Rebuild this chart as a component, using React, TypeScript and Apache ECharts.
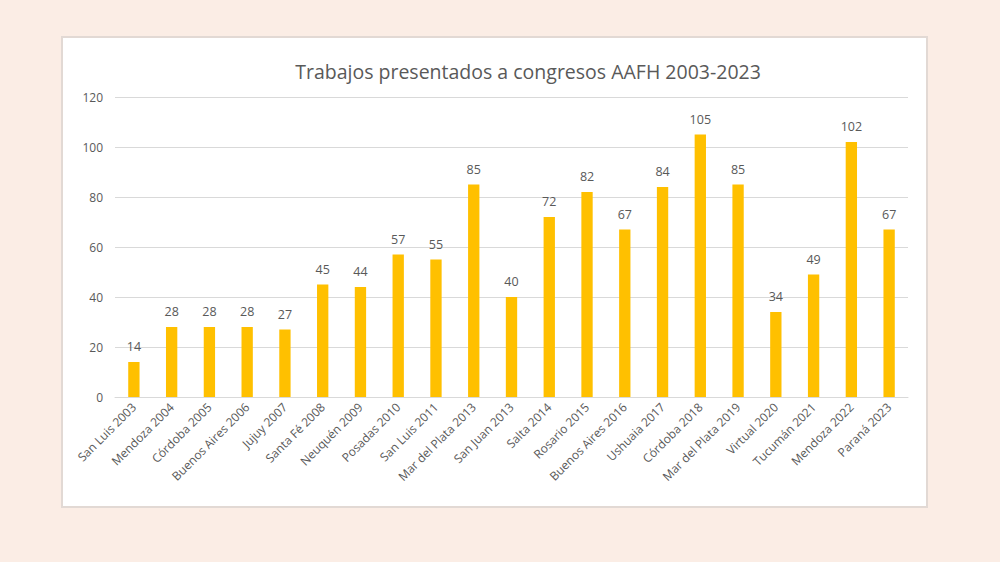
import React, { useEffect, useRef } from "react";
import * as echarts from "echarts";

const categories = [
  "San Luis 2003", "Mendoza 2004", "Córdoba 2005", "Buenos Aires 2006", "Jujuy 2007",
  "Santa Fé 2008", "Neuquén 2009", "Posadas 2010", "San Luis 2011", "Mar del Plata 2013",
  "San Juan 2013", "Salta 2014", "Rosario 2015", "Buenos Aires 2016", "Ushuaia 2017",
  "Córdoba 2018", "Mar del Plata 2019", "Virtual 2020", "Tucumán 2021", "Mendoza 2022",
  "Paraná 2023",
];
const values = [14, 28, 28, 28, 27, 45, 44, 57, 55, 85, 40, 72, 82, 67, 84, 105, 85, 34, 49, 102, 67];
const title = "Trabajos presentados a congresos AAFH 2003-2023";

export default function App() {
  const ref = useRef<HTMLDivElement>(null);
  useEffect(() => {
    document.body.style.margin = "0";
    const chart = echarts.init(ref.current!, null, { renderer: "svg" });
    const font = "'Open Sans', 'Noto Sans', sans-serif";
    chart.setOption({
      animation: false,
      backgroundColor: "#fbede5",
      graphic: [
        {
          type: "rect",
          z: -10,
          shape: { x: 62, y: 37, width: 865, height: 470 },
          style: { fill: "#ffffff", stroke: "#e2d9d4", lineWidth: 2 },
        },
      ],
      title: {
        text: title,
        left: 523,
        top: 56,
        textAlign: "center",
        textStyle: { fontFamily: font, fontSize: 19.5, fontWeight: "normal", color: "#595959" },
      },
      grid: { left: 115, right: 92, top: 97, bottom: 165, containLabel: false },
      xAxis: {
        type: "category",
        data: categories,
        axisLine: { lineStyle: { color: "#d9d9d9" } },
        axisTick: { show: false },
        axisLabel: {
          rotate: 45,
          interval: 0,
          margin: 8,
          fontFamily: font,
          fontSize: 12,
          color: "#595959",
        },
      },
      yAxis: {
        type: "value",
        min: 0,
        max: 120,
        interval: 20,
        axisLine: { show: false },
        axisTick: { show: false },
        splitLine: { lineStyle: { color: "#d9d9d9" } },
        axisLabel: { margin: 12, fontFamily: font, fontSize: 12, color: "#595959" },
      },
      series: [
        {
          type: "bar",
          data: values,
          barWidth: "30%",
          itemStyle: { color: "#ffc000" },
          label: {
            show: true,
            position: "top",
            distance: 9,
            fontFamily: font,
            fontSize: 12.5,
            color: "#595959",
          },
        },
      ],
    });
    return () => chart.dispose();
  }, []);
  return <div ref={ref} style={{ position: "fixed", left: 0, top: 0, width: 1000, height: 562 }} />;
}
